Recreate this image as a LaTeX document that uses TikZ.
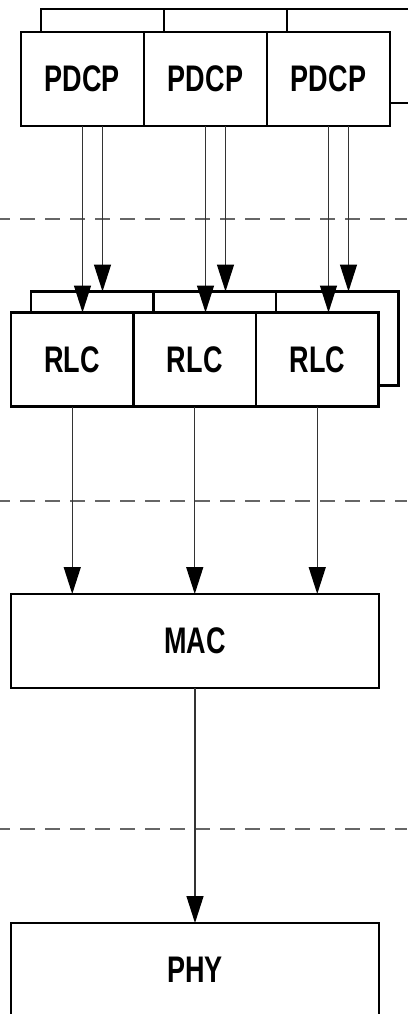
\documentclass[tikz,border=0pt]{standalone}
\usepackage{fontspec}
\setmainfont{Liberation Sans}
\usetikzlibrary{positioning,arrows.meta}

\tikzset{
  layer/.style={draw=black, line width=2.2pt, fill=white, inner sep=0pt, outer sep=0pt,
    minimum height=94pt, font=\fontsize{37}{37}\selectfont\bfseries},
  cell/.style={layer, minimum width=123pt},
  flow/.style={draw=black!80, line width=1.4pt, -{Triangle[length=27pt,width=17pt,black]}},
  sep/.style={draw=black!60, line width=1.4pt, dash pattern=on 15pt off 10pt, dash phase=5pt}
}
\newcommand{\narrow}[1]{\scalebox{0.73}[1]{#1}}

\begin{document}
\begin{tikzpicture}[x=1pt,y=-1pt]
\useasboundingbox (0,0) rectangle (407,1014);

\def\ya{79}
\def\yb{359.5}

% PDCP, back row then front row
\node[cell] (pdcpb1) at (102.5,56) {};
\node[cell, right=0pt of pdcpb1] (pdcpb2) {};
\node[cell, right=0pt of pdcpb2] (pdcpb3) {};
\node[cell] (pdcp1) at (82.5,\ya) {\narrow{PDCP}};
\node[cell, right=0pt of pdcp1] (pdcp2) {\narrow{PDCP}};
\node[cell, right=0pt of pdcp2] (pdcp3) {\narrow{PDCP}};

% RLC, back row then front row
\node[cell, minimum width=122.5pt] (rlcb1) at (92.25,338.5) {};
\node[cell, minimum width=122.5pt, right=0pt of rlcb1] (rlcb2) {};
\node[cell, minimum width=122.5pt, right=0pt of rlcb2] (rlcb3) {};
\node[cell, minimum width=122.5pt] (rlc1) at (72.25,\yb) {\narrow{RLC}};
\node[cell, minimum width=122.5pt, right=0pt of rlc1] (rlc2) {\narrow{RLC}};
\node[cell, minimum width=122.5pt, right=0pt of rlc2] (rlc3) {\narrow{RLC}};

\node[layer, minimum width=368pt] (mac) at (195,641) {\narrow{MAC}};
\node[layer, minimum width=368pt] (phy) at (195,970) {\narrow{PHY}};

% layer borders
\draw[sep] (0,219) -- (407,219);
\draw[sep] (0,501) -- (407,501);
\draw[sep] (0,829) -- (407,829);

\foreach \i in {1,2,3} {
  \draw[flow] (pdcp\i.south) -- (pdcp\i.south |- rlc\i.north);
  \draw[flow] (pdcpb\i.south |- pdcp\i.south) -- (pdcpb\i.south |- rlcb\i.north);
  \draw[flow] (rlc\i.south) -- (rlc\i.south |- mac.north);
}
\draw[flow] (mac) -- (phy);

\end{tikzpicture}
\end{document}
